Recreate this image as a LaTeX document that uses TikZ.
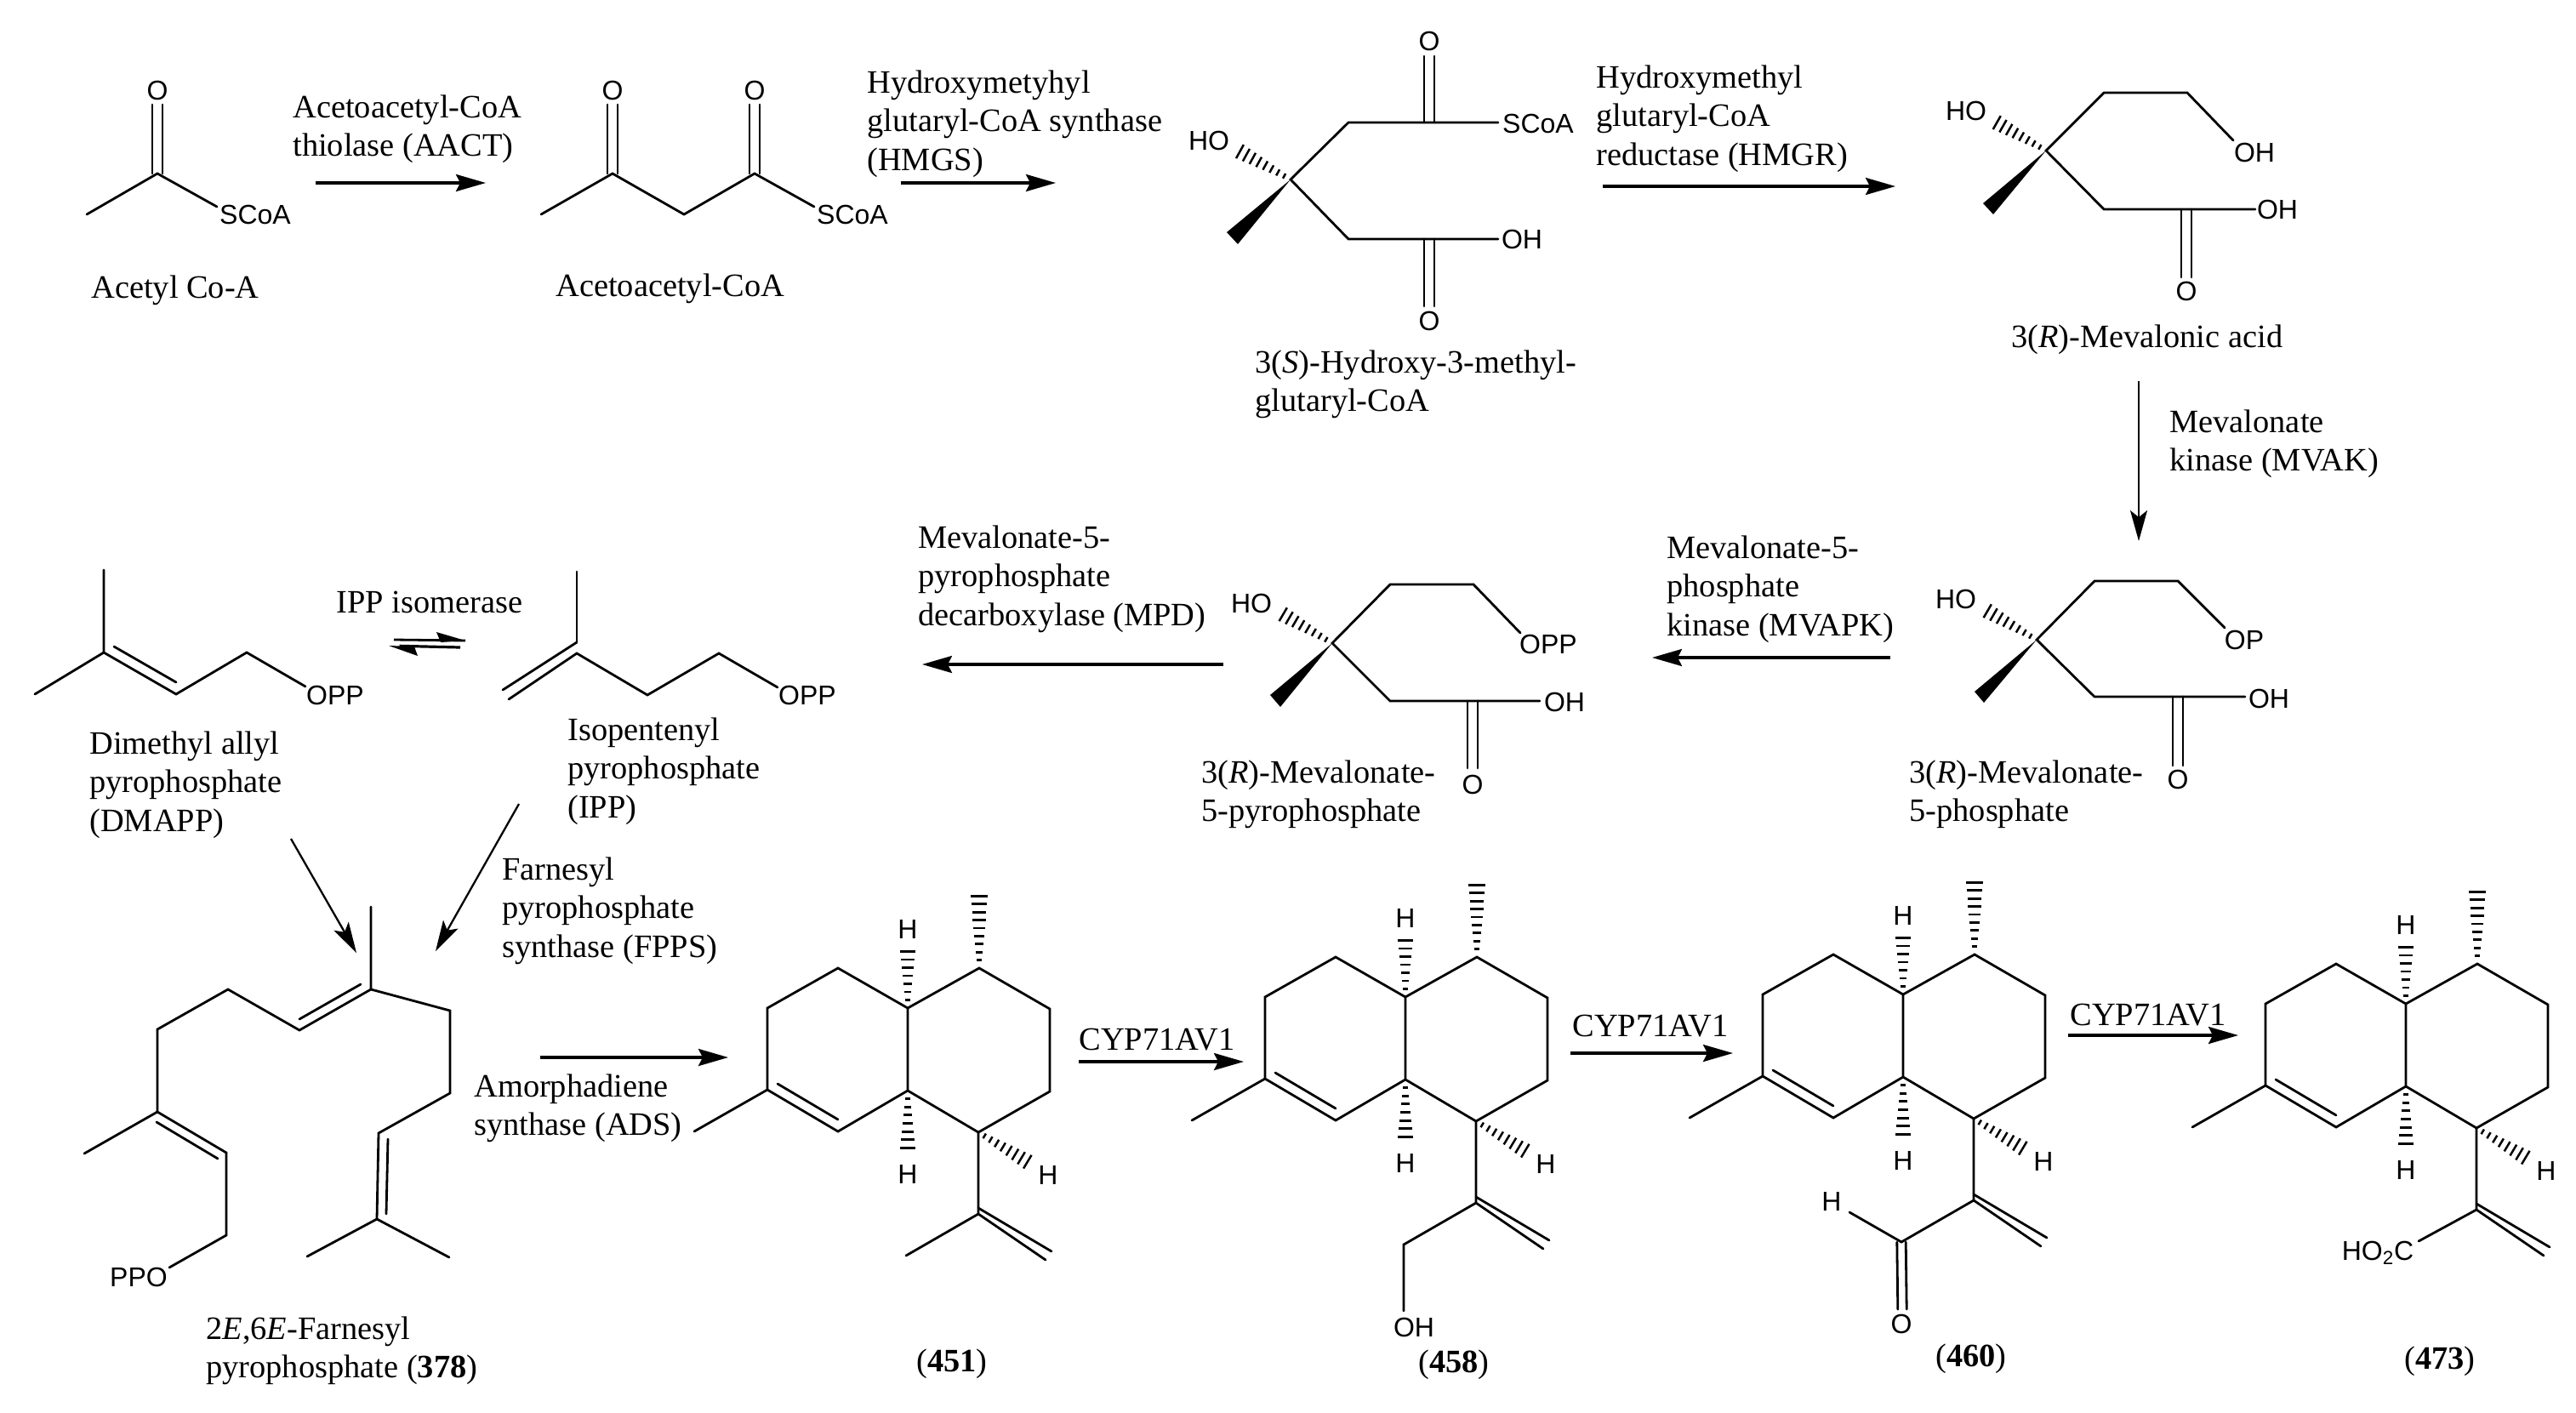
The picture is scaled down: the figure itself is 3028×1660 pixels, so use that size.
\documentclass[tikz,border=0pt]{standalone}
\usepackage{fontspec}
\setmainfont{Liberation Serif}
\newfontfamily\atomfam{Liberation Sans}
\usetikzlibrary{calc,arrows.meta}
\newcommand\lblf{\fontsize{19.2}{22.75}\selectfont}
\newcommand\atmf{\atomfam\fontsize{16}{18}\selectfont}
\tikzset{
  bond/.style={line width=1.4pt,line cap=round,line join=miter,draw=black},
  rx/.style={line width=1.6pt,draw=black,-{Stealth[length=17.5pt,width=10pt,inset=2.5pt]}},
  rxthin/.style={line width=1.15pt,draw=black,-{Stealth[length=18pt,width=10pt,inset=4pt]}},
  lbl/.style={anchor=north west,inner sep=0pt,align=left,font=\lblf,yshift=9.5pt},
  atom/.style={inner sep=0pt,font=\atmf,anchor=center},
  num/.style={inner sep=0pt,font=\lblf,anchor=center}
}
% text label: name, x, y of the middle of the first line, text
\newcommand\lab[4]{\node[lbl] (#1) at (#2,#3) {\strut #4};}
% atom label: name, x, y, text
\newcommand\atm[4]{\node[atom] (#1) at (#2,#3) {#4};}
% double bond between two named points, half gap
\newcommand\dbl[3]{%
  \draw[bond] ($(#1)!#3!90:(#2)$) -- ($(#2)!#3!-90:(#1)$);
  \draw[bond] ($(#1)!#3!-90:(#2)$) -- ($(#2)!#3!90:(#1)$);}
% hashed wedge: from, to, bars, half width (pt), bar thickness
\newcommand\hashw[5]{%
  \foreach \i in {1,...,#3}{%
    \pgfmathsetmacro\tt{\i/#3}%
    \pgfmathsetmacro\ww{1.2+\tt*(#4-1.2)}%
    \draw[line width=#5,line cap=butt] ($(#1)!\tt!(#2)!\ww pt!90:(#2)$) -- ($(#1)!\tt!(#2)!\ww pt!-90:(#2)$);
  }}
% solid wedge
\newcommand\wedg[3]{\fill[black] (#1) -- (#2) -- (#3) -- cycle;}
% amorphane skeleton
\newcommand\amorph[3]{%
\begin{scope}[shift={(#2,#3)}]
\path (985,1138) coordinate (#1a) (902,1185) coordinate (#1b) (902,1281) coordinate (#1c)
      (985,1330) coordinate (#1d) (1067,1282) coordinate (#1e) (1067,1185) coordinate (#1f)
      (1151,1138) coordinate (#1g) (1234,1186) coordinate (#1h) (1234,1283) coordinate (#1i)
      (1150,1331) coordinate (#1j) (816,1330) coordinate (#1m)
      (914,1274) coordinate (#1p) (985,1316) coordinate (#1q)
      (1151,1044) coordinate (#1n) (1067,1109) coordinate (#1u) (1067,1359) coordinate (#1v)
      (1215,1370) coordinate (#1w) (1150,1427) coordinate (#1t) (1065,1476) coordinate (#1l)
      (1229,1481) coordinate (#1x) (1150,1420) coordinate (#1y) (1236,1471) coordinate (#1z);
\draw[bond] (#1f)--(#1a)--(#1b)--(#1c)--(#1d)--(#1e)--(#1f)--(#1g)--(#1h)--(#1i)--(#1j)--(#1e);
\draw[bond] (#1c)--(#1m);
\draw[bond] (#1p)--(#1q);
\draw[bond] (#1j)--(#1t)--(#1x);
\draw[bond] (#1y)--(#1z);
\hashw{#1g}{#1n}{10}{5.5}{1.4pt}
\hashw{#1f}{#1u}{8}{5}{1.4pt}
\hashw{#1e}{#1v}{8}{5}{1.4pt}
\hashw{#1j}{#1w}{9}{5}{1.25pt}
\atm{#1H1}{1067}{1092}{H}
\atm{#1H2}{1067}{1380}{H}
\atm{#1H3}{1232}{1381}{H}
\end{scope}}
\begin{document}
\begin{tikzpicture}[x=0.5pt,y=-0.5pt]
\useasboundingbox (0,0) rectangle (3028,1660);
\fill[white] (0,0) rectangle (3028,1660);

% ---------- Acetyl CoA
\path (102,252) coordinate (A1) (185,204) coordinate (A2) (255,243) coordinate (A3) (185,123) coordinate (A4);
\draw[bond] (A1)--(A2)--(A3);
\dbl{A2}{A4}{3pt}
\atm{AO}{185}{106}{O}
\atm{AS}{300}{252}{SCoA}
\lab{Alab}{107}{337}{Acetyl Co-A}

% ---------- Acetoacetyl CoA
\path (636,252) coordinate (B1) (720,204) coordinate (B2) (804,252) coordinate (B3) (887,204) coordinate (B4)
      (957,243) coordinate (B5) (720,123) coordinate (B6) (887,123) coordinate (B7);
\draw[bond] (B1)--(B2)--(B3)--(B4)--(B5);
\dbl{B2}{B6}{3pt}
\dbl{B4}{B7}{3pt}
\atm{BO1}{720}{106}{O}
\atm{BO2}{887}{106}{O}
\atm{BS}{1002}{252}{SCoA}
\lab{Blab}{653}{335}{Acetoacetyl-CoA}

% ---------- HMG CoA
\path (1517,211) coordinate (C1) (1585,144) coordinate (C2) (1680,144) coordinate (C3) (1761,144) coordinate (C4)
      (1680,66) coordinate (C5) (1585,281) coordinate (C6) (1680,281) coordinate (C7) (1761,281) coordinate (C8)
      (1680,360) coordinate (C9) (1450,174) coordinate (C10) (1442,273) coordinate (C11) (1455,287) coordinate (C12);
\draw[bond] (C4)--(C3)--(C2)--(C1)--(C6)--(C7)--(C8);
\dbl{C3}{C5}{3pt}
\dbl{C7}{C9}{3pt}
\hashw{C1}{C10}{9}{5}{1.25pt}
\wedg{C1}{C11}{C12}
\atm{CO1}{1680}{48}{O}
\atm{CS}{1808}{145}{SCoA}
\atm{COH}{1789}{281}{OH}
\atm{CO2}{1680}{377}{O}
\atm{CHO}{1421}{165}{HO}
\lab{Clab}{1475}{425}{3(\textit{S})-Hydroxy-3-methyl-\\glutaryl-CoA}

% ---------- Mevalonic acid
\path (2405,177) coordinate (D1) (2473,109) coordinate (D2) (2571,109) coordinate (D3) (2625,165) coordinate (D4)
      (2473,246) coordinate (D5) (2570,246) coordinate (D6) (2651,246) coordinate (D7) (2570,326) coordinate (D8)
      (2340,140) coordinate (D9) (2331,239) coordinate (D10) (2343,252) coordinate (D11);
\draw[bond] (D4)--(D3)--(D2)--(D1)--(D5)--(D6)--(D7);
\dbl{D6}{D8}{3pt}
\hashw{D1}{D9}{9}{5}{1.25pt}
\wedg{D1}{D10}{D11}
\atm{DOH1}{2650}{179}{OH}
\atm{DOH2}{2677}{246}{OH}
\atm{DO}{2570}{342}{O}
\atm{DHO}{2311}{130}{HO}
\lab{Dlab}{2364}{395}{3(\textit{R})-Mevalonic acid}

% ---------- Mevalonate-5-phosphate
\path (2394,752) coordinate (E1) (2462,683) coordinate (E2) (2560,683) coordinate (E3) (2615,738) coordinate (E4)
      (2462,819) coordinate (E5) (2560,819) coordinate (E6) (2639,819) coordinate (E7) (2560,900) coordinate (E8)
      (2329,714) coordinate (E9) (2321,813) coordinate (E10) (2332,826) coordinate (E11);
\draw[bond] (E4)--(E3)--(E2)--(E1)--(E5)--(E6)--(E7);
\dbl{E6}{E8}{3pt}
\hashw{E1}{E9}{9}{5}{1.25pt}
\wedg{E1}{E10}{E11}
\atm{EOP}{2638}{752}{OP}
\atm{EOH}{2667}{821}{OH}
\atm{EO}{2560}{916}{O}
\atm{EHO}{2299}{704}{HO}
\lab{Elab}{2244}{907}{3(\textit{R})-Mevalonate-\\5-phosphate}

% ---------- Mevalonate-5-pyrophosphate
\path (1566,756) coordinate (F1) (1634,687) coordinate (F2) (1732,687) coordinate (F3) (1787,744) coordinate (F4)
      (1634,824) coordinate (F5) (1731,824) coordinate (F6) (1810,824) coordinate (F7) (1731,903) coordinate (F8)
      (1501,718) coordinate (F9) (1493,817) coordinate (F10) (1505,831) coordinate (F11);
\draw[bond] (F4)--(F3)--(F2)--(F1)--(F5)--(F6)--(F7);
\dbl{F6}{F8}{3pt}
\hashw{F1}{F9}{9}{5}{1.25pt}
\wedg{F1}{F10}{F11}
\atm{FOPP}{1820}{757}{OPP}
\atm{FOH}{1839}{825}{OH}
\atm{FO}{1731}{922}{O}
\atm{FHO}{1471}{709}{HO}
\lab{Flab}{1412}{907}{3(\textit{R})-Mevalonate-\\5-pyrophosphate}

% ---------- DMAPP
\path (122,670) coordinate (G1) (122,767) coordinate (G2) (41,816) coordinate (G3) (207,816) coordinate (G4)
      (290,767) coordinate (G5) (359,807) coordinate (G6) (134,760) coordinate (G7) (207,802) coordinate (G8);
\draw[bond] (G1)--(G2)--(G4)--(G5)--(G6);
\draw[bond] (G3)--(G2);
\draw[bond] (G7)--(G8);
\atm{GOPP}{394}{817}{OPP}
\lab{Glab}{105}{873}{Dimethyl allyl\\pyrophosphate\\(DMAPP)}

% ---------- IPP
\path (678,672) coordinate (H1) (678,768) coordinate (H2) (598,822) coordinate (H3) (761,817) coordinate (H4)
      (845,768) coordinate (H5) (914,808) coordinate (H6) (678,755) coordinate (H7) (591,811) coordinate (H8);
\draw[bond] (H1)--(H7);
\draw[bond] (H3)--(H2)--(H4)--(H5)--(H6);
\draw[bond] (H7)--(H8);
\atm{HOPP}{949}{817}{OPP}
\lab{Hlab}{667}{857}{Isopentenyl\\pyrophosphate\\(IPP)}

% ---------- Farnesyl pyrophosphate
\path (436,1066) coordinate (J1) (436,1163) coordinate (J2) (352,1211) coordinate (J3) (424,1157) coordinate (J4)
      (352,1198) coordinate (J5) (268,1163) coordinate (J6) (185,1210) coordinate (J7) (185,1307) coordinate (J8)
      (99,1356) coordinate (J9) (266,1355) coordinate (J10) (184,1319) coordinate (J11) (256,1362) coordinate (J12)
      (266,1452) coordinate (J13) (199,1490) coordinate (J14) (529,1188) coordinate (J15) (529,1285) coordinate (J16)
      (445,1332) coordinate (J17) (443,1433) coordinate (J18) (456,1339) coordinate (J19) (454,1427) coordinate (J20)
      (361,1477) coordinate (J21) (528,1478) coordinate (J22);
\draw[bond] (J1)--(J2)--(J3)--(J6)--(J7)--(J8)--(J10)--(J13)--(J14);
\draw[bond] (J8)--(J9);
\draw[bond] (J4)--(J5);
\draw[bond] (J11)--(J12);
\draw[bond] (J2)--(J15)--(J16)--(J17)--(J18)--(J21);
\draw[bond] (J18)--(J22);
\draw[bond] (J19)--(J20);
\atm{JPPO}{163}{1501}{PPO}
\lab{Jlab}{242}{1561}{2\textit{E},6\textit{E}-Farnesyl\\pyrophosphate (\textbf{378})}

% ---------- amorphane-type products
\amorph{P}{0}{0}
\draw[bond] (Pt)--(Pl);
\node[num] (Pnum) at (1119,1603) {(\textbf{451})};

\amorph{Q}{585}{-13}
\path (1650,1541) coordinate (Qo);
\draw[bond] (Qt)--(Ql)--(Qo);
\atm{QOH}{1662}{1560}{OH}
\node[num] (Qnum) at (1709,1604) {(\textbf{458})};

\amorph{R}{1170}{-16}
\path (2174,1425) coordinate (Rh) (2236,1539) coordinate (Ro);
\draw[bond] (Rt)--(Rl)--(Rh);
\dbl{Rl}{Ro}{2.6pt}
\atm{RH}{2153}{1412}{H}
\atm{RO}{2235}{1556}{O}
\node[num] (Rnum) at (2317,1597) {(\textbf{460})};

\amorph{S}{1761}{-5}
\path (2843,1459) coordinate (Sc);
\draw[bond] (St)--(Sc);
\atm{SC}{2795}{1473}{HO\textsubscript{2}C}
\node[num] (Snum) at (2868,1600) {(\textbf{473})};

% ---------- reaction arrows
\path (371,215) coordinate (r1a) (571,215) coordinate (r1b)
      (1059,215) coordinate (r2a) (1241,215) coordinate (r2b)
      (1884,219) coordinate (r3a) (2228,219) coordinate (r3b)
      (2514,448) coordinate (r4a) (2514,636) coordinate (r4b)
      (2222,773) coordinate (r5a) (1942,773) coordinate (r5b)
      (1438,781) coordinate (r6a) (1084,781) coordinate (r6b)
      (342,986) coordinate (r7a) (419,1120) coordinate (r7b)
      (610,945) coordinate (r8a) (512,1118) coordinate (r8b)
      (635,1243) coordinate (r9a) (856,1243) coordinate (r9b)
      (1268,1248) coordinate (r10a) (1462,1248) coordinate (r10b)
      (1846,1238) coordinate (r11a) (2037,1238) coordinate (r11b)
      (2431,1217) coordinate (r12a) (2631,1217) coordinate (r12b);
\draw[rx] (r1a)--(r1b);
\draw[rx] (r2a)--(r2b);
\draw[rx] (r3a)--(r3b);
\draw[rxthin] (r4a)--(r4b);
\draw[rx] (r5a)--(r5b);
\draw[rx] (r6a)--(r6b);
\draw[rxthin] (r7a)--(r7b);
\draw[rxthin] (r8a)--(r8b);
\draw[rx] (r9a)--(r9b);
\draw[rx] (r10a)--(r10b);
\draw[rx] (r11a)--(r11b);
\draw[rx] (r12a)--(r12b);

% equilibrium half arrows
\path (463,752) coordinate (e1a) (547,753) coordinate (e1b) (513,743) coordinate (e1c) (518,755) coordinate (e1d)
      (541,761) coordinate (e2a) (457,759) coordinate (e2b) (491,771) coordinate (e2c) (487,760) coordinate (e2d);
\draw[line width=1.4pt] (e1a)--(e1b);
\fill (e1b)--(e1c)--(e1d)--cycle;
\draw[line width=1.6pt] (e2a)--($(e2a)!0.85!(e2b)$);
\fill (e2b)--(e2c)--(e2d)--cycle;

% ---------- enzyme labels
\lab{t1}{344}{125}{Acetoacetyl-CoA\\thiolase (AACT)}
\lab{t2}{1019}{96}{Hydroxymetyhyl\\glutaryl-CoA synthase\\(HMGS)}
\lab{t3}{1876}{90}{Hydroxymethyl\\glutaryl-CoA\\reductase (HMGR)}
\lab{t4}{2550}{495}{Mevalonate\\kinase (MVAK)}
\lab{t5}{1959}{643}{Mevalonate-5-\\phosphate\\kinase (MVAPK)}
\lab{t6}{1079}{631}{Mevalonate-5-\\pyrophosphate\\decarboxylase (MPD)}
\lab{t7}{395}{707}{IPP isomerase}
\lab{t8}{590}{1021}{Farnesyl\\pyrophosphate\\synthase (FPPS)}
\lab{t9}{557}{1276}{Amorphadiene\\synthase (ADS)}
\lab{t10}{1268}{1221}{CYP71AV1}
\lab{t11}{1848}{1205}{CYP71AV1}
\lab{t12}{2433}{1192}{CYP71AV1}
\end{tikzpicture}
\end{document}
